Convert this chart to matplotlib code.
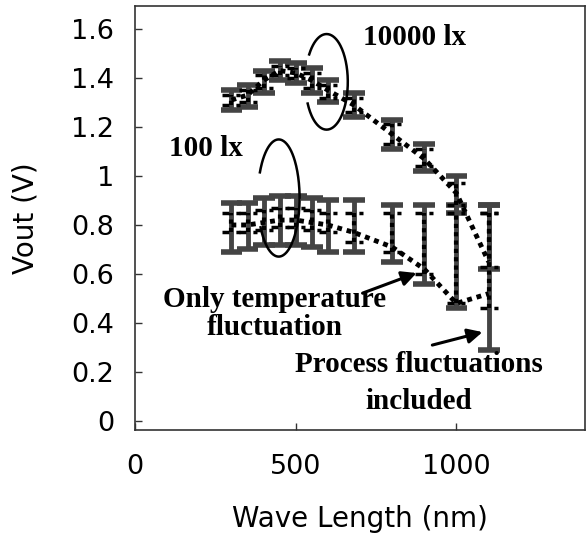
import matplotlib
matplotlib.use('Agg')
import matplotlib.pyplot as plt
import numpy as np

# Wavelengths of the measured points (nm)
wavelength = [300, 350, 400, 450, 500, 550, 600, 680, 800, 900, 1000, 1100]

# 10000 lx: mean output, process range, temperature-only range
mean_10000 = [1.31, 1.33, 1.39, 1.43, 1.42, 1.39, 1.35, 1.29, 1.17, 1.07, 0.93, 0.65]
proc_min_10000 = [1.27, 1.28, 1.34, 1.39, 1.38, 1.34, 1.30, 1.24, 1.11, 1.02, 0.85, 0.62]
proc_max_10000 = [1.35, 1.37, 1.43, 1.47, 1.46, 1.44, 1.39, 1.34, 1.23, 1.13, 1.00, 0.88]
temp_min_10000 = [1.29, 1.30, 1.36, 1.41, 1.40, 1.36, 1.32, 1.26, 1.13, 1.04, 0.88, 0.63]
temp_max_10000 = [1.33, 1.35, 1.41, 1.45, 1.44, 1.42, 1.37, 1.32, 1.21, 1.11, 0.97, 0.85]

# 100 lx
mean_100 = [0.80, 0.80, 0.81, 0.82, 0.82, 0.81, 0.80, 0.77, 0.71, 0.62, 0.48, 0.52]
proc_min_100 = [0.69, 0.70, 0.72, 0.72, 0.72, 0.71, 0.69, 0.69, 0.65, 0.56, 0.46, 0.29]
proc_max_100 = [0.89, 0.89, 0.91, 0.92, 0.92, 0.91, 0.90, 0.90, 0.88, 0.88, 0.88, 0.88]
temp_min_100 = [0.77, 0.77, 0.78, 0.79, 0.79, 0.78, 0.77, 0.73, 0.69, 0.60, 0.48, 0.46]
temp_max_100 = [0.85, 0.85, 0.86, 0.87, 0.87, 0.86, 0.85, 0.85, 0.85, 0.85, 0.85, 0.85]

bar_color = '#444444'
serif = ['Liberation Serif', 'DejaVu Serif']

fig = plt.figure(figsize=(5.87, 5.33), dpi=100)
ax = fig.add_axes([0.230, 0.193, 0.7666, 0.796])

wl = np.array(wavelength)


def draw_series(mean, pmin, pmax, tmin, tmax):
    # process fluctuation bars (solid, wide caps)
    ax.vlines(wl, pmin, pmax, colors=bar_color, lw=3.5, zorder=2)
    ax.hlines(pmin, wl - 34, wl + 34, colors=bar_color, lw=4, zorder=2)
    ax.hlines(pmax, wl - 34, wl + 34, colors=bar_color, lw=4, zorder=2)
    # temperature-only bars (dotted, dashed caps)
    ax.vlines(wl, tmin, tmax, colors='black', lw=3, linestyles=(0, (1, 1)), zorder=3)
    ax.hlines(tmin, wl - 28, wl + 28, colors='black', lw=2.5, linestyles=(0, (2, 2)), zorder=3)
    ax.hlines(tmax, wl - 28, wl + 28, colors='black', lw=2.5, linestyles=(0, (2, 2)), zorder=3)
    # dotted line through the means
    ax.plot(wl, mean, color='black', lw=3.5, linestyle=(0, (1, 1)), zorder=4)


draw_series(mean_10000, proc_min_10000, proc_max_10000, temp_min_10000, temp_max_10000)
draw_series(mean_100, proc_min_100, proc_max_100, temp_min_100, temp_max_100)

# open ellipses marking the two light levels
t = np.deg2rad(np.linspace(207, 505, 200))
ax.plot(596 + 66 * np.cos(t), 1.384 + 0.195 * np.sin(t), color='black', lw=1.8, zorder=5)
t = np.deg2rad(np.linspace(210, 514, 200))
ax.plot(447 + 65 * np.cos(t), 0.910 + 0.239 * np.sin(t), color='black', lw=1.8, zorder=5)

fs = 21
ax.text(870, 1.563, '10000 lx', ha='center', va='center', fontsize=fs,
        fontweight='bold', family=serif)
ax.text(220, 1.114, '100 lx', ha='center', va='center', fontsize=fs,
        fontweight='bold', family=serif)
ax.text(435, 0.495, 'Only temperature', ha='center', va='center', fontsize=fs,
        fontweight='bold', family=serif)
ax.text(435, 0.380, 'fluctuation', ha='center', va='center', fontsize=fs,
        fontweight='bold', family=serif)
ax.text(882, 0.230, 'Process fluctuations', ha='center', va='center', fontsize=fs,
        fontweight='bold', family=serif)
ax.text(882, 0.080, 'included', ha='center', va='center', fontsize=fs,
        fontweight='bold', family=serif)

arrow = dict(arrowstyle='-|>', lw=2.2, color='black', mutation_scale=22,
             shrinkA=0, shrinkB=0)
ax.annotate('', xy=(876, 0.604), xytext=(708, 0.522), arrowprops=arrow)
ax.annotate('', xy=(1081, 0.363), xytext=(925, 0.31), arrowprops=arrow)

ax.set_xlim(0, 1400)
ax.set_ylim(-0.037, 1.694)
ax.set_xticks([0, 500, 1000])
ax.set_yticks([0, 0.2, 0.4, 0.6, 0.8, 1.0, 1.2, 1.4, 1.6])
ax.set_yticklabels(['0', '0.2', '0.4', '0.6', '0.8', '1', '1.2', '1.4', '1.6'])
ax.tick_params(direction='in', length=5, width=1, color='#333333',
               labelsize=19.5, top=False, right=False)
ax.tick_params(axis='x', pad=17)
ax.tick_params(axis='y', pad=15)
for s in ax.spines.values():
    s.set_color('#333333')
    s.set_linewidth(1.2)

ax.set_xlabel('Wave Length (nm)', fontsize=20, labelpad=18)
ax.set_ylabel('Vout (V)', fontsize=20, labelpad=23)

fig.savefig('out.png', dpi=100)
